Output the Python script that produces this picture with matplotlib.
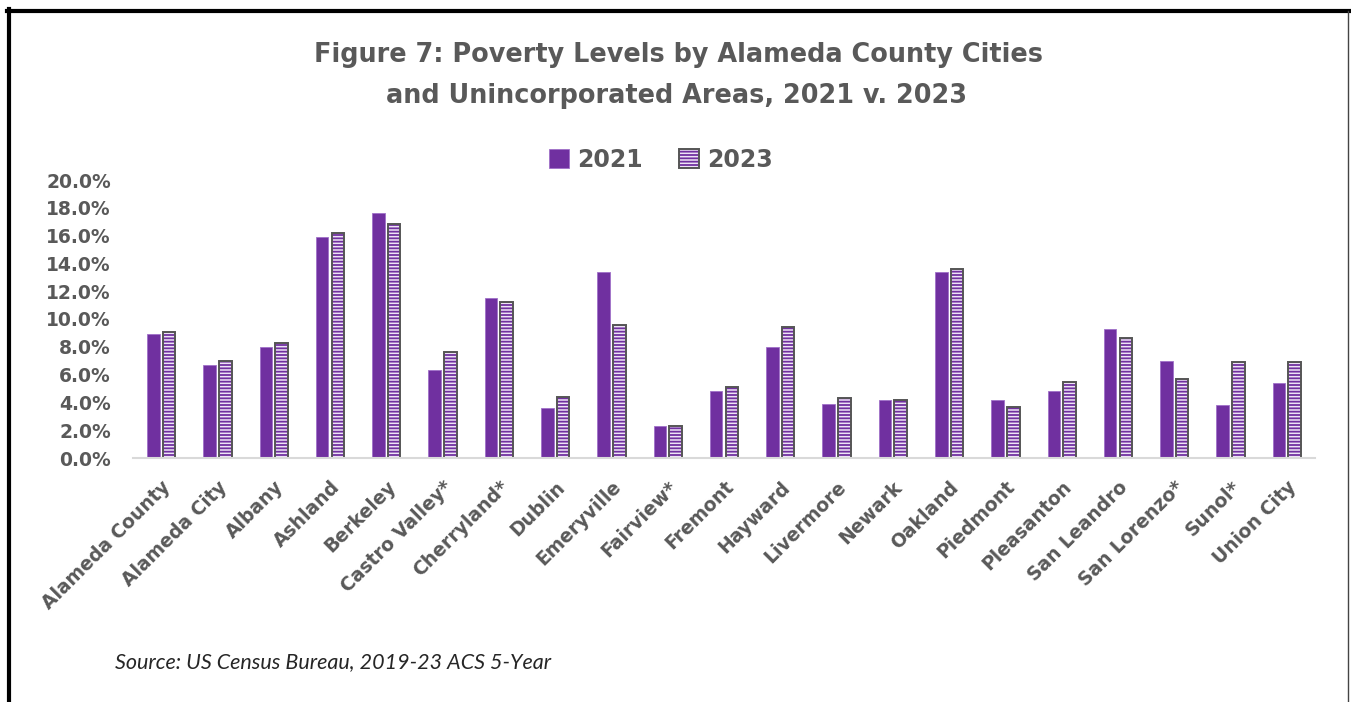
import matplotlib.pyplot as plt
from matplotlib.lines import Line2D
from matplotlib.patches import Patch
import numpy as np

cities = ["Alameda County", "Alameda City", "Albany", "Ashland", "Berkeley",
          "Castro Valley*", "Cherryland*", "Dublin", "Emeryville", "Fairview*",
          "Fremont", "Hayward", "Livermore", "Newark", "Oakland", "Piedmont",
          "Pleasanton", "San Leandro", "San Lorenzo*", "Sunol*", "Union City"]
pov_2021 = [8.9, 6.7, 8.0, 15.9, 17.6, 6.3, 11.5, 3.6, 13.4, 2.3,
            4.8, 8.0, 3.9, 4.2, 13.4, 4.2, 4.8, 9.3, 7.0, 3.8, 5.4]
pov_2023 = [9.1, 7.0, 8.3, 16.2, 16.8, 7.6, 11.2, 4.4, 9.6, 2.3,
            5.1, 9.45, 4.3, 4.2, 13.6, 3.7, 5.5, 8.6, 5.7, 6.9, 6.9]
yticks = [0, 2, 4, 6, 8, 10, 12, 14, 16, 18, 20]

purple = "#7030A0"
lavender = "#EEE4F6"
grey_txt = "#595959"
font = "DejaVu Sans"

W, H = 1351, 702
fig = plt.figure(figsize=(W / 100, H / 100), dpi=100)
ax = fig.add_axes([133 / W, 1 - 458 / H, (1315 - 133) / W, (458 - 180) / H])

x = np.arange(len(cities))
bw = 0.225
off = 0.14

plt.rcParams['hatch.linewidth'] = 1.3
b1 = ax.bar(x - off, pov_2021, bw, color=purple, edgecolor="#A070C8", linewidth=0.6)
b2h = ax.bar(x + off, pov_2023, bw, color=lavender, edgecolor=purple, hatch="-----", linewidth=0)
b2e = ax.bar(x + off, pov_2023, bw, fill=False, edgecolor="#555555", linewidth=1.4)

ax.set_xlim(-0.5, len(cities) - 0.5)
ax.set_ylim(0, 20)
ax.set_yticks(yticks)
ax.set_yticklabels(["%.1f%%" % v for v in yticks])
ax.set_xticks(x)
ax.set_xticklabels(cities, rotation=45, ha="right", rotation_mode="anchor")

for s in ["top", "right", "left"]:
    ax.spines[s].set_visible(False)
ax.spines["bottom"].set_color("#D9D9D9")
ax.spines["bottom"].set_linewidth(1.5)
ax.tick_params(length=0)
ax.tick_params(axis="y", pad=16)
ax.tick_params(axis="x", pad=14)
for lab in ax.get_yticklabels() + ax.get_xticklabels():
    lab.set_fontfamily(font)
    lab.set_fontweight("bold")
    lab.set_color(grey_txt)
    lab.set_fontsize(13.5)

fig.text(679 / W, 1 - 55 / H, "Figure 7: Poverty Levels by Alameda County Cities",
         ha="center", va="center", fontsize=18.4, fontweight="bold", color=grey_txt, family=font)
fig.text(677 / W, 1 - 96 / H, "and Unincorporated Areas, 2021 v. 2023",
         ha="center", va="center", fontsize=18.4, fontweight="bold", color=grey_txt, family=font)

h1 = Patch(facecolor=purple, edgecolor="#A070C8", linewidth=0.6)
h2a = Patch(facecolor=lavender, edgecolor=purple, hatch="-----", linewidth=0)
h2b = Patch(fill=False, edgecolor="#555555", linewidth=1.4)
fig.legend([h1, (h2a, h2b)], ["2021", "2023"], loc="center", bbox_to_anchor=(661 / W, 1 - 160 / H),
           ncol=2, frameon=False, handlelength=0.85, handleheight=0.85, handletextpad=0.35,
           columnspacing=1.5, prop={"family": font, "weight": "bold", "size": 17},
           labelcolor=grey_txt)

fig.text(115 / W, 1 - 662 / H, "Source: US Census Bureau, 2019-23 ACS 5-Year",
         ha="left", va="center", fontsize=15.5, style="italic", color="#262626", family="Lato")

# outer frame
fig.add_artist(Line2D([9, 9], [0, H - 9], transform=None, color="black", linewidth=3))
fig.add_artist(Line2D([7, W], [H - 11, H - 11], transform=None, color="black", linewidth=3))
fig.add_artist(Line2D([1348, 1348], [0, H - 11], transform=None, color="#444444", linewidth=1))

fig.savefig("out.png", dpi=100)
